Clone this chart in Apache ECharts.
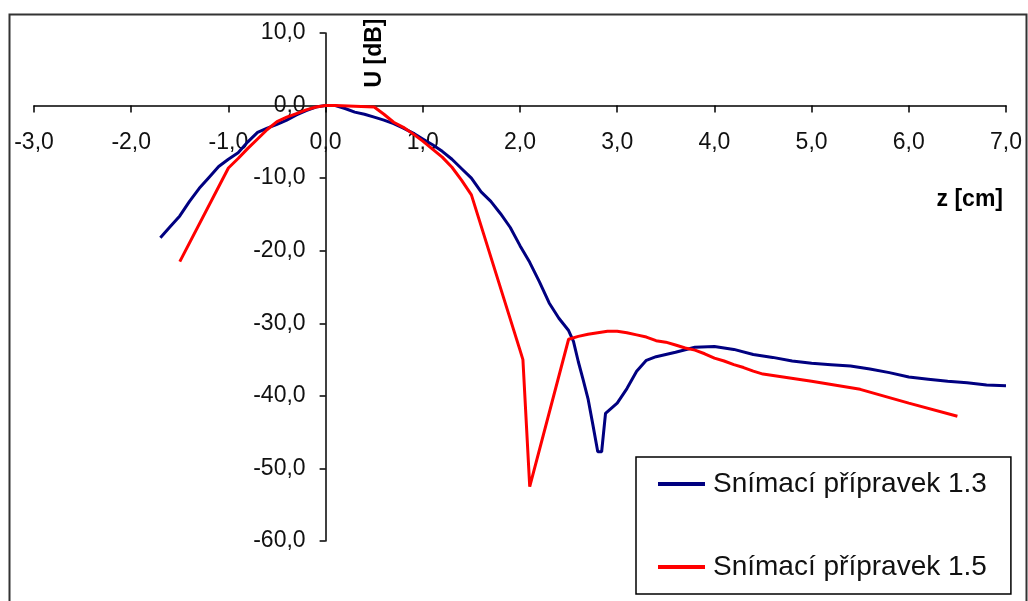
<!DOCTYPE html>
<html>
<head>
<meta charset="utf-8">
<script src="https://cdn.jsdelivr.net/npm/echarts@6/dist/echarts.min.js"></script>
<style>
html,body{margin:0;padding:0;background:#fff;}
#chart{width:1028px;height:601px;}
</style>
</head>
<body>
<div id="chart"></div>
<script>
// ---- data ----
const seriesNames = ['Snímací přípravek 1.3', 'Snímací přípravek 1.5'];

const z13 = [-1.7,-1.6,-1.5,-1.4,-1.3,-1.2,-1.1,-1.0,-0.9,-0.8,-0.7,-0.6,-0.5,-0.4,-0.3,-0.2,-0.1,0.0,0.1,0.2,0.3,0.4,0.5,0.6,0.7,0.8,0.9,1.0,1.1,1.2,1.3,1.4,1.5,1.6,1.7,1.8,1.9,2.0,2.1,2.2,2.3,2.4,2.5,2.55,2.6,2.65,2.7,2.75,2.8,2.84,2.88,3.0,3.1,3.2,3.3,3.4,3.5,3.6,3.8,4.0,4.2,4.4,4.6,4.8,5.0,5.2,5.4,5.6,5.8,6.0,6.2,6.4,6.6,6.8,7.0];
const u13 = [-18.2,-16.7,-15.2,-13.2,-11.4,-9.9,-8.4,-7.4,-6.5,-5.0,-3.7,-3.1,-2.6,-2.0,-1.3,-0.7,-0.2,0.0,0.0,-0.4,-0.9,-1.2,-1.6,-2.0,-2.5,-3.1,-3.8,-4.6,-5.4,-6.3,-7.4,-8.7,-10.0,-11.9,-13.2,-14.9,-16.8,-19.3,-21.6,-24.3,-27.2,-29.3,-31.0,-32.5,-35.3,-37.8,-40.4,-44.0,-47.7,-47.7,-42.4,-41.0,-39.0,-36.6,-35.1,-34.6,-34.3,-34.0,-33.3,-33.2,-33.6,-34.3,-34.7,-35.2,-35.5,-35.7,-35.9,-36.3,-36.8,-37.4,-37.7,-38.0,-38.2,-38.5,-38.6];

const z15 = [-1.5,-1.0,-0.9,-0.8,-0.7,-0.6,-0.5,-0.4,-0.3,-0.2,-0.1,0.0,0.1,0.5,0.6,0.7,0.8,0.9,1.0,1.1,1.2,1.3,1.4,1.5,2.0,2.03,2.1,2.5,2.6,2.7,2.8,2.9,3.0,3.1,3.2,3.3,3.4,3.5,3.6,3.7,3.8,3.9,4.0,4.1,4.2,4.3,4.4,4.5,5.0,5.5,6.0,6.5];
const u15 = [-21.5,-8.6,-7.3,-5.9,-4.6,-3.3,-2.2,-1.6,-1.1,-0.6,-0.2,0.0,0.0,-0.2,-1.2,-2.3,-3.0,-3.9,-4.9,-6.0,-7.1,-8.5,-10.3,-12.3,-33.7,-35.0,-52.5,-32.2,-31.8,-31.5,-31.3,-31.1,-31.1,-31.3,-31.6,-31.9,-32.4,-32.6,-33.0,-33.4,-33.7,-34.2,-34.8,-35.2,-35.7,-36.1,-36.6,-37.0,-38.0,-39.1,-41.0,-42.8];

const xTickValues = [-3,-2,-1,0,1,2,3,4,5,6,7];
const xTickLabels = ['-3,0','-2,0','-1,0','0,0','1,0','2,0','3,0','4,0','5,0','6,0','7,0'];
const yTickValues = [-60,-50,-40,-30,-20,-10,0,10];
const yTickLabels = ['-60,0','-50,0','-40,0','-30,0','-20,0','-10,0','0,0','10,0'];
const xTitle = 'z [cm]';
const yTitle = 'U [dB]';

function pairs(xs, ys){ return xs.map((x,i)=>[x, ys[i]]); }
function lookup(vals, labels){
  return function(v){
    const i = vals.findIndex(t => Math.abs(t - v) < 1e-9);
    return i >= 0 ? labels[i] : '';
  };
}

// layout
const W = 1028, H = 601;
const G = {left: 34, right: 22, top: 33, bottom: 60};
const xMin = -3, xMax = 7, yMin = -60, yMax = 10;
const gw = W - G.left - G.right, gh = H - G.top - G.bottom;
// shift axes so that they cross at the origin
const xAxisOffset = -(gh * (0 - yMin) / (yMax - yMin));
const yAxisOffset = -(gw * (0 - xMin) / (xMax - xMin));

const chart = echarts.init(document.getElementById('chart'), null, {renderer:'canvas'});
const FONT = 'Liberation Sans, Arial, sans-serif';
chart.setOption({
  animation: false,
  backgroundColor: '#ffffff',
  textStyle: {fontFamily: FONT},
  grid: Object.assign({containLabel: false, outerBoundsMode: 'none'}, G),
  xAxis: {
    type: 'value', min: xMin, max: xMax, interval: 1, position: 'bottom', offset: xAxisOffset,
    axisLine: {onZero: false, lineStyle: {color: '#000', width: 1.5}},
    axisTick: {show: true, length: 7, lineStyle: {color: '#000', width: 1.5}},
    axisLabel: {formatter: lookup(xTickValues, xTickLabels), fontSize: 23, color: '#111', margin: 26, fontFamily: FONT, showMinLabel: true, showMaxLabel: true, hideOverlap: false},
    splitLine: {show: false}
  },
  yAxis: {
    type: 'value', min: yMin, max: yMax, interval: 10, position: 'left', offset: yAxisOffset,
    axisLine: {onZero: false, lineStyle: {color: '#000', width: 1.5}},
    axisTick: {show: true, length: 6, lineStyle: {color: '#000', width: 1.5}},
    axisLabel: {formatter: lookup(yTickValues, yTickLabels), fontSize: 23, color: '#111', margin: 20, fontFamily: FONT, showMinLabel: true, showMaxLabel: true, hideOverlap: false},
    splitLine: {show: false}
  },
  legend: {
    orient: 'vertical', left: 636, top: 457,
    data: seriesNames,
    icon: 'rect', itemWidth: 47, itemHeight: 4, itemGap: 53,
    padding: [12, 24, 12, 22],
    borderColor: '#000', borderWidth: 1.5, borderRadius: 0,
    backgroundColor: '#fff',
    textStyle: {fontSize: 28, lineHeight: 30, color: '#111', fontFamily: FONT, padding: [0,0,0,3]}
  },
  graphic: [
    {type: 'rect', z: -1, shape: {x: 9.5, y: 14.5, width: 1017, height: 620}, style: {fill: 'none', stroke: '#333', lineWidth: 2}},
    {type: 'text', x: 375, y: 53, rotation: Math.PI/2, style: {text: yTitle, font: 'bold 23px ' + FONT, fill: '#000', align: 'center', verticalAlign: 'middle'}},
    {type: 'text', x: 1003, y: 200, style: {text: xTitle, font: 'bold 23px ' + FONT, fill: '#000', align: 'right', verticalAlign: 'middle'}}
  ],
  series: [
    {name: seriesNames[0], type: 'line', data: pairs(z13, u13), showSymbol: false, symbol: 'none', color: '#000080', lineStyle: {color: '#000080', width: 3}},
    {name: seriesNames[1], type: 'line', data: pairs(z15, u15), showSymbol: false, symbol: 'none', color: '#ff0000', lineStyle: {color: '#ff0000', width: 3}}
  ]
});
</script>
</body>
</html>
